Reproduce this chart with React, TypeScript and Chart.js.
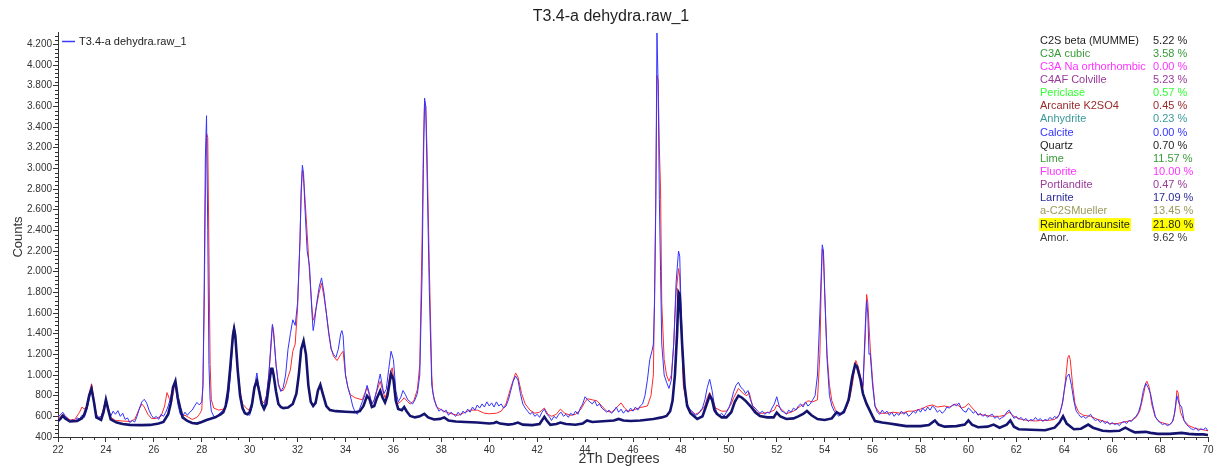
import React, { useEffect, useRef } from 'react';
import { Chart, registerables } from 'chart.js';

Chart.register(...registerables);

const chartTitle = 'T3.4-a dehydra.raw_1';
const legendLabel = 'T3.4-a dehydra.raw_1';
const xAxisTitle = '2Th Degrees';
const yAxisTitle = 'Counts';

const xTickValues = [22, 24, 26, 28, 30, 32, 34, 36, 38, 40, 42, 44, 46, 48, 50, 52, 54, 56, 58, 60, 62, 64, 66, 68, 70];
const yTickValues = [400, 600, 800, 1000, 1200, 1400, 1600, 1800, 2000, 2200, 2400, 2600, 2800, 3000, 3200, 3400, 3600, 3800, 4000, 4200];

// Observed pattern (blue), [2Theta, counts]
const observed: [number, number][] = [
  [22.0,600],[22.1,615],[22.2,640],[22.3,605],[22.4,580],[22.5,545],[22.6,570],[22.7,550],[22.8,585],[22.9,575],
  [23.0,610],[23.1,590],[23.2,660],[23.3,760],[23.4,885],[23.5,740],[23.6,610],[23.7,590],[23.8,600],[23.9,660],
  [24.0,765],[24.1,680],[24.2,600],[24.3,650],[24.4,620],[24.5,655],[24.6,600],[24.7,630],[24.8,570],[24.9,585],
  [25.0,540],[25.1,560],[25.2,545],[25.3,600],[25.4,680],[25.5,740],[25.6,765],[25.7,730],[25.8,660],[25.9,610],
  [26.0,580],[26.1,600],[26.2,570],[26.3,620],[26.4,600],[26.5,640],[26.6,700],[26.7,780],[26.8,880],[26.9,900],
  [27.0,720],[27.1,620],[27.2,600],[27.3,640],[27.4,610],[27.5,640],[27.6,660],[27.7,700],[27.8,735],[27.9,710],
  [28.0,740],[28.05,900],[28.1,1800],[28.15,3100],[28.2,3510],[28.25,2400],[28.3,1100],[28.35,760],[28.4,650],
  [28.5,600],[28.6,585],[28.7,620],[28.8,640],[28.9,660],[29.0,690],[29.1,760],[29.2,1000],[29.3,1350],[29.35,1480],
  [29.4,1400],[29.5,1050],[29.6,820],[29.7,700],[29.8,640],[29.9,620],[30.0,610],[30.1,690],[30.2,880],[30.3,1020],
  [30.4,860],[30.5,720],[30.6,700],[30.7,800],[30.8,1000],[30.9,1350],[30.95,1490],[31.0,1400],[31.1,1100],[31.2,900],
  [31.3,840],[31.4,880],[31.5,1000],[31.6,1250],[31.7,1400],[31.8,1535],[31.9,1480],[32.0,1700],[32.1,2300],[32.15,2800],
  [32.2,3030],[32.25,2950],[32.3,2650],[32.4,2200],[32.5,2050],[32.6,1600],[32.65,1430],[32.7,1500],[32.8,1700],[32.9,1850],
  [33.0,1940],[33.1,1800],[33.2,1600],[33.3,1400],[33.4,1250],[33.5,1200],[33.6,1170],[33.7,1250],[33.8,1400],[33.85,1430],
  [33.9,1380],[34.0,1000],[34.1,880],[34.2,800],[34.3,700],[34.4,640],[34.5,620],[34.6,680],[34.7,740],[34.8,800],
  [34.9,900],[35.0,820],[35.1,720],[35.2,760],[35.3,850],[35.4,960],[35.45,1010],[35.5,940],[35.6,820],[35.7,860],
  [35.8,1050],[35.9,1230],[36.0,1150],[36.1,850],[36.2,740],[36.3,780],[36.4,850],[36.5,810],[36.6,760],[36.7,740],
  [36.8,720],[36.9,760],[37.0,820],[37.1,1000],[37.2,2000],[37.25,3000],[37.3,3680],[37.35,3600],[37.4,3000],[37.5,1800],
  [37.6,900],[37.7,760],[37.8,700],[37.9,650],[38.0,670],[38.1,640],[38.2,660],[38.3,610],[38.4,640],[38.5,620],
  [38.6,600],[38.7,640],[38.8,610],[38.9,650],[39.0,630],[39.1,670],[39.2,640],[39.3,690],[39.4,660],[39.5,710],
  [39.6,680],[39.7,720],[39.8,690],[39.9,740],[40.0,700],[40.1,730],[40.2,690],[40.3,740],[40.4,700],[40.5,720],
  [40.6,680],[40.7,700],[40.8,760],[40.9,850],[41.0,940],[41.1,990],[41.2,950],[41.3,820],[41.4,720],[41.5,680],
  [41.6,650],[41.7,620],[41.8,640],[41.9,600],[42.0,620],[42.1,590],[42.2,640],[42.3,670],[42.4,620],[42.5,600],
  [42.6,560],[42.7,600],[42.8,580],[42.9,620],[43.0,640],[43.1,600],[43.2,620],[43.3,590],[43.4,630],[43.5,610],
  [43.6,650],[43.7,620],[43.8,680],[43.9,720],[44.0,790],[44.1,760],[44.2,740],[44.3,720],[44.4,750],[44.5,700],
  [44.6,720],[44.7,680],[44.8,660],[44.9,640],[45.0,660],[45.1,630],[45.2,650],[45.3,690],[45.4,640],[45.5,670],
  [45.6,630],[45.7,660],[45.8,640],[45.9,680],[46.0,650],[46.1,690],[46.2,660],[46.3,700],[46.4,720],[46.5,800],
  [46.6,950],[46.7,1150],[46.8,1240],[46.85,1300],[46.9,1700],[46.95,2600],[47.0,4310],[47.05,3800],[47.1,2700],[47.15,2000],
  [47.2,1300],[47.3,1000],[47.4,930],[47.5,870],[47.6,950],[47.7,1300],[47.8,1900],[47.9,2200],[47.95,2150],[48.0,1700],
  [48.1,1050],[48.2,780],[48.3,700],[48.4,660],[48.5,640],[48.6,610],[48.7,620],[48.8,650],[48.9,680],[49.0,760],
  [49.1,880],[49.2,960],[49.3,850],[49.4,700],[49.5,640],[49.6,610],[49.7,630],[49.8,600],[49.9,640],[50.0,680],
  [50.1,750],[50.2,840],[50.3,900],[50.4,930],[50.5,880],[50.6,860],[50.7,820],[50.8,850],[50.9,760],[51.0,700],
  [51.1,680],[51.2,650],[51.3,630],[51.4,650],[51.5,620],[51.6,640],[51.7,630],[51.8,680],[51.9,720],[52.0,790],
  [52.1,700],[52.2,650],[52.3,640],[52.4,620],[52.5,660],[52.6,640],[52.7,680],[52.8,660],[52.9,700],[53.0,720],
  [53.1,690],[53.2,740],[53.3,700],[53.4,720],[53.5,760],[53.6,800],[53.7,1000],[53.8,1600],[53.9,2260],[53.95,2200],
  [54.0,1800],[54.1,1150],[54.2,800],[54.3,700],[54.4,650],[54.5,620],[54.6,600],[54.7,640],[54.8,660],[54.9,700],
  [55.0,780],[55.1,900],[55.2,1050],[55.3,1100],[55.4,1050],[55.5,960],[55.6,900],[55.7,1500],[55.75,1720],[55.8,1600],
  [55.85,1200],[55.9,1210],[56.0,900],[56.1,700],[56.2,640],[56.3,620],[56.4,660],[56.5,630],[56.6,650],[56.7,610],
  [56.8,640],[56.9,600],[57.0,630],[57.1,610],[57.2,650],[57.3,620],[57.4,640],[57.5,600],[57.6,620],[57.7,650],
  [57.8,630],[57.9,670],[58.0,640],[58.1,680],[58.2,650],[58.3,690],[58.4,660],[58.5,700],[58.6,680],[58.7,640],
  [58.8,660],[58.9,630],[59.0,650],[59.1,690],[59.2,680],[59.3,700],[59.4,720],[59.5,700],[59.6,730],[59.7,680],
  [59.8,650],[59.9,640],[60.0,680],[60.1,660],[60.2,630],[60.3,650],[60.4,610],[60.5,630],[60.6,600],[60.7,620],
  [60.8,590],[60.9,610],[61.0,620],[61.1,580],[61.2,600],[61.3,570],[61.4,590],[61.5,600],[61.6,640],[61.7,660],
  [61.8,620],[61.9,580],[62.0,600],[62.1,570],[62.2,590],[62.3,560],[62.4,580],[62.5,550],[62.6,570],[62.7,560],
  [62.8,590],[62.9,560],[63.0,580],[63.1,550],[63.2,570],[63.3,560],[63.4,590],[63.5,570],[63.6,600],[63.7,580],
  [63.8,620],[63.9,700],[64.0,850],[64.1,980],[64.2,1010],[64.3,900],[64.4,750],[64.5,650],[64.6,620],[64.7,590],
  [64.8,600],[64.9,580],[65.0,600],[65.1,620],[65.2,580],[65.3,560],[65.4,570],[65.5,540],[65.6,560],[65.7,530],
  [65.8,550],[65.9,520],[66.0,540],[66.1,520],[66.2,530],[66.3,510],[66.4,540],[66.5,550],[66.6,530],[66.7,560],
  [66.8,550],[66.9,580],[67.0,600],[67.1,640],[67.2,720],[67.3,850],[67.4,920],[67.5,880],[67.6,820],[67.7,700],
  [67.8,600],[67.9,560],[68.0,540],[68.1,520],[68.2,530],[68.3,510],[68.4,520],[68.5,540],[68.6,620],[68.7,800],
  [68.8,720],[68.9,690],[69.0,560],[69.1,520],[69.2,500],[69.3,480],[69.4,470],[69.5,490],[69.6,460],[69.7,480],
  [69.8,470],[69.9,490],[70.0,460]
];

// Calculated pattern (red)
const calculated: [number, number][] = [
  [22.0,580],[22.1,600],[22.2,620],[22.3,600],[22.5,565],[22.7,570],[22.9,640],[23.0,690],[23.1,670],[23.2,700],
  [23.3,820],[23.4,915],[23.5,760],[23.6,620],[23.7,585],[23.8,600],[23.9,680],[24.0,770],[24.1,680],[24.2,590],
  [24.4,560],[24.7,555],[25.0,550],[25.2,570],[25.35,650],[25.5,720],[25.6,690],[25.75,620],[25.9,580],[26.1,580],
  [26.3,600],[26.45,700],[26.55,830],[26.65,770],[26.75,740],[26.85,880],[26.9,920],[27.0,760],[27.1,640],[27.2,600],
  [27.3,610],[27.45,590],[27.6,570],[27.8,590],[27.9,620],[28.0,660],[28.05,900],[28.1,1600],[28.15,2700],[28.2,3340],
  [28.25,3300],[28.3,2200],[28.35,1100],[28.4,760],[28.5,680],[28.7,660],[28.9,670],[29.0,690],[29.1,800],[29.2,1100],
  [29.3,1420],[29.35,1470],[29.4,1380],[29.5,1050],[29.6,850],[29.7,720],[29.9,670],[30.0,660],[30.1,720],[30.2,860],
  [30.3,950],[30.4,850],[30.5,750],[30.6,730],[30.7,800],[30.8,1000],[30.9,1300],[30.95,1480],[31.0,1420],[31.1,1100],
  [31.2,920],[31.3,850],[31.4,850],[31.5,900],[31.6,980],[31.7,1050],[31.8,1230],[31.9,1300],[32.0,1650],[32.1,2300],
  [32.15,2750],[32.2,2980],[32.25,2900],[32.3,2740],[32.4,2370],[32.5,1980],[32.6,1650],[32.65,1530],[32.7,1560],[32.8,1680],
  [32.9,1800],[33.0,1890],[33.1,1760],[33.2,1600],[33.3,1420],[33.4,1260],[33.5,1180],[33.65,1140],[33.8,1200],[33.9,1230],
  [34.0,1000],[34.1,880],[34.2,810],[34.4,780],[34.7,760],[34.8,820],[34.9,880],[35.0,800],[35.1,720],[35.2,760],
  [35.3,840],[35.45,940],[35.55,850],[35.65,780],[35.75,840],[35.85,1000],[35.95,1070],[36.05,900],[36.15,720],[36.3,740],
  [36.45,780],[36.6,740],[36.7,720],[36.85,750],[37.0,860],[37.1,1100],[37.2,2370],[37.25,3200],[37.3,3650],[37.35,3600],
  [37.4,3200],[37.5,2050],[37.6,1000],[37.65,820],[37.8,690],[37.95,670],[38.2,640],[38.5,620],[38.7,610],[39.0,640],
  [39.2,660],[39.5,660],[39.8,630],[40.0,625],[40.3,630],[40.5,650],[40.7,720],[40.9,880],[41.1,1020],[41.2,980],
  [41.35,820],[41.5,720],[41.7,660],[41.9,630],[42.1,640],[42.3,680],[42.45,620],[42.6,600],[42.8,620],[42.97,670],
  [43.15,630],[43.4,610],[43.6,620],[43.8,660],[44.0,740],[44.1,770],[44.3,760],[44.5,750],[44.7,700],[44.9,650],
  [45.1,640],[45.3,680],[45.5,730],[45.65,680],[45.8,650],[46.0,660],[46.3,685],[46.6,700],[46.75,800],[46.85,1000],
  [46.9,1800],[46.95,2700],[47.0,3900],[47.05,3850],[47.1,3200],[47.15,2800],[47.2,1700],[47.3,1150],[47.4,1000],[47.5,940],
  [47.6,1000],[47.7,1300],[47.8,1800],[47.9,2030],[47.95,1950],[48.0,1600],[48.1,900],[48.25,700],[48.4,660],[48.6,620],
  [48.8,640],[49.0,700],[49.1,780],[49.2,830],[49.3,780],[49.45,680],[49.7,650],[49.9,650],[50.1,720],[50.2,780],
  [50.4,870],[50.6,820],[50.75,800],[50.85,830],[51.0,690],[51.2,630],[51.4,630],[51.7,640],[51.9,660],[52.0,710],
  [52.15,680],[52.4,625],[52.7,650],[53.0,700],[53.15,720],[53.3,750],[53.5,740],[53.7,760],[53.8,1200],[53.85,1800],
  [53.9,2220],[53.95,2150],[54.05,1500],[54.1,1200],[54.2,900],[54.3,750],[54.45,660],[54.6,620],[54.75,640],[54.9,680],
  [55.05,780],[55.15,900],[55.3,1140],[55.4,1080],[55.5,980],[55.6,880],[55.7,1400],[55.75,1780],[55.8,1700],[55.9,1270],
  [56.0,950],[56.1,700],[56.3,630],[56.6,630],[56.85,640],[57.2,630],[57.5,650],[57.7,650],[58.0,670],[58.3,700],
  [58.5,710],[58.7,690],[59.0,700],[59.2,690],[59.5,720],[59.7,680],[59.85,690],[60.0,725],[60.2,670],[60.4,620],
  [60.7,610],[61.0,600],[61.3,600],[61.5,610],[61.7,640],[61.9,600],[62.2,570],[62.5,560],[62.8,555],[63.0,560],
  [63.3,560],[63.6,570],[63.8,620],[63.95,750],[64.05,950],[64.15,1170],[64.2,1190],[64.25,1150],[64.35,900],[64.45,720],
  [64.6,640],[64.8,610],[65.1,600],[65.4,570],[65.7,550],[65.9,530],[66.2,530],[66.5,545],[66.8,560],[67.0,590],
  [67.15,650],[67.3,800],[67.4,920],[67.45,940],[67.55,880],[67.65,720],[67.8,590],[68.0,545],[68.2,530],[68.4,520],
  [68.55,560],[68.65,700],[68.7,850],[68.75,830],[68.85,640],[69.0,560],[69.2,510],[69.5,480],[69.8,470],[70.0,460]
];

// Single-phase contribution (dark navy, thick)
const phaseContribution: [number, number][] = [
  [22.0,555],[22.1,575],[22.2,605],[22.3,580],[22.5,550],[22.8,555],[23.0,580],[23.1,620],[23.2,690],[23.3,800],
  [23.4,866],[23.5,740],[23.6,590],[23.8,565],[23.9,640],[24.0,760],[24.1,660],[24.2,570],[24.45,540],[24.7,525],
  [25.0,517],[25.5,515],[25.85,517],[26.2,530],[26.4,545],[26.6,620],[26.7,720],[26.8,880],[26.9,940],[27.0,780],
  [27.1,680],[27.2,590],[27.4,555],[27.6,535],[27.8,530],[28.0,545],[28.2,565],[28.4,580],[28.56,590],[28.8,620],
  [28.9,640],[29.0,700],[29.1,850],[29.2,1100],[29.3,1380],[29.35,1446],[29.4,1380],[29.5,1050],[29.6,800],[29.7,680],
  [29.8,630],[29.9,620],[30.0,640],[30.1,720],[30.2,880],[30.3,944],[30.4,840],[30.5,720],[30.6,672],[30.7,720],
  [30.8,900],[30.9,1060],[30.95,1060],[31.0,1000],[31.1,840],[31.2,720],[31.3,690],[31.4,680],[31.6,685],[31.8,720],
  [31.95,820],[32.05,1000],[32.15,1250],[32.25,1330],[32.35,1200],[32.45,900],[32.55,740],[32.65,700],[32.75,730],[32.85,850],
  [32.95,905],[33.05,820],[33.2,700],[33.35,660],[33.6,650],[34.0,645],[34.4,640],[34.6,650],[34.75,700],[34.9,798],
  [35.0,770],[35.1,690],[35.2,700],[35.3,770],[35.45,847],[35.55,780],[35.65,735],[35.75,800],[35.9,1010],[36.0,960],
  [36.1,750],[36.2,672],[36.35,660],[36.45,690],[36.55,650],[36.7,604],[36.9,590],[37.1,600],[37.29,625],[37.45,590],
  [37.7,570],[37.95,575],[38.12,590],[38.3,560],[38.6,550],[39.0,545],[39.5,540],[40.0,530],[40.2,535],[40.3,545],
  [40.45,530],[40.8,520],[41.0,525],[41.2,540],[41.4,520],[41.8,515],[42.1,525],[42.3,595],[42.4,560],[42.55,517],
  [42.8,525],[42.97,540],[43.2,525],[43.6,518],[43.9,530],[44.08,560],[44.3,545],[44.9,555],[45.2,560],[45.4,575],
  [45.6,560],[45.9,555],[46.3,560],[46.85,574],[47.2,590],[47.4,604],[47.55,650],[47.65,750],[47.75,1000],[47.84,1400],
  [47.9,1800],[47.95,1780],[48.05,1300],[48.15,900],[48.26,700],[48.4,630],[48.68,574],[48.9,600],[49.05,700],[49.2,800],
  [49.3,760],[49.4,660],[49.5,623],[49.7,590],[49.9,590],[50.1,640],[50.25,740],[50.4,800],[50.55,780],[50.7,750],
  [50.9,700],[51.1,640],[51.3,604],[51.6,590],[51.87,590],[52.0,636],[52.15,600],[52.4,574],[52.7,580],[52.9,600],
  [53.1,623],[53.26,652],[53.45,610],[53.7,574],[54.0,565],[54.3,580],[54.5,640],[54.65,620],[54.8,640],[55.0,760],
  [55.15,980],[55.27,1100],[55.35,1080],[55.5,950],[55.6,818],[55.75,720],[55.85,672],[56.0,600],[56.1,555],[56.4,540],
  [56.7,530],[57.0,520],[57.4,505],[58.0,505],[58.35,515],[58.6,560],[58.75,520],[59.0,500],[59.5,505],[59.85,520],
  [60.0,560],[60.15,520],[60.4,495],[60.8,500],[61.05,520],[61.3,490],[61.6,520],[61.75,560],[61.9,500],[62.1,475],
  [62.6,470],[63.2,465],[63.6,490],[63.8,540],[63.95,600],[64.1,530],[64.4,475],[64.7,480],[65.0,520],[65.2,490],
  [65.6,460],[65.9,455],[66.3,460],[66.55,490],[66.8,460],[66.95,445],[67.4,450],[67.6,440],[67.9,430],[68.4,430],
  [68.9,440],[69.2,430],[69.5,425],[69.8,425],[70.0,420]
];

const phaseNames = [
  'C2S beta (MUMME)', 'C3A cubic', 'C3A Na orthorhombic', 'C4AF Colville', 'Periclase', 'Arcanite K2SO4',
  'Anhydrite', 'Calcite', 'Quartz', 'Lime', 'Fluorite', 'Portlandite', 'Larnite', 'a-C2SMueller',
  'Reinhardbraunsite', 'Amor.'
];
const phasePercents = [
  '5.22 %', '3.58 %', '0.00 %', '5.23 %', '0.57 %', '0.45 %', '0.23 %', '0.00 %', '0.70 %', '11.57 %',
  '10.00 %', '0.47 %', '17.09 %', '13.45 %', '21.80 %', '9.62 %'
];
const phaseColors = [
  '#1e1e1e', '#3a9a3a', '#ff33ff', '#9a3a9a', '#33ff33', '#9a2a2a', '#3a9a9a', '#3333ff', '#1e1e1e', '#3a9a3a',
  '#ff33ff', '#9a3a9a', '#2a2a9a', '#9a9a5a', '#1e1e1e', '#3a3a3a'
];
const highlightedPhase = 'Reinhardbraunsite';

const FONT = '"Liberation Sans", Arial, sans-serif';

const overlayPlugin = {
  id: 'overlayPlugin',
  afterDraw(chart: any) {
    const ctx: CanvasRenderingContext2D = chart.ctx;
    const { left, bottom } = chart.chartArea;
    const xs = chart.scales.x;
    const ys = chart.scales.y;
    ctx.save();
    // minor ticks
    ctx.strokeStyle = '#333';
    ctx.lineWidth = 1;
    for (let v = 400; v <= 4300; v += 40) {
      if (v % 200 === 0) continue;
      const py = Math.round(ys.getPixelForValue(v)) + 0.5;
      ctx.beginPath();
      ctx.moveTo(left - 3, py);
      ctx.lineTo(left, py);
      ctx.stroke();
    }
    for (let v = 22; v <= 70; v += 0.5) {
      if (v % 2 === 0) continue;
      const px = Math.round(xs.getPixelForValue(v)) + 0.5;
      ctx.beginPath();
      ctx.moveTo(px, bottom);
      ctx.lineTo(px, bottom + 3);
      ctx.stroke();
    }
    // title
    ctx.fillStyle = '#1e1e1e';
    ctx.textBaseline = 'middle';
    ctx.textAlign = 'center';
    ctx.font = `16px ${FONT}`;
    ctx.fillText(chartTitle, 611, 17);
    // x axis title
    ctx.font = `14px ${FONT}`;
    ctx.fillStyle = '#333';
    ctx.fillText(xAxisTitle, 619, 459);
    // y axis title
    ctx.save();
    ctx.translate(18, 237);
    ctx.rotate(-Math.PI / 2);
    ctx.font = `13px ${FONT}`;
    ctx.fillText(yAxisTitle, 0, 0);
    ctx.restore();
    // legend
    ctx.strokeStyle = '#3a3aff';
    ctx.lineWidth = 1.5;
    ctx.beginPath();
    ctx.moveTo(62, 41.5);
    ctx.lineTo(75, 41.5);
    ctx.stroke();
    ctx.textAlign = 'left';
    ctx.font = `11px ${FONT}`;
    ctx.fillStyle = '#222';
    ctx.fillText(legendLabel, 79, 42);
    // phase table
    const nameX = 1040;
    const valX = 1153;
    const y0 = 40.5;
    const step = 13.15;
    ctx.font = `11px ${FONT}`;
    phaseNames.forEach((name, i) => {
      const y = y0 + i * step;
      if (name === highlightedPhase) {
        ctx.fillStyle = '#ffff00';
        const w1 = ctx.measureText(name).width;
        ctx.fillRect(nameX - 1, y - 6.5, w1 + 2, 13);
        const w2 = ctx.measureText(phasePercents[i]).width;
        ctx.fillRect(valX - 1, y - 6.5, w2 + 2, 13);
      }
      ctx.fillStyle = phaseColors[i];
      ctx.fillText(name, nameX, y);
      ctx.fillText(phasePercents[i], valX, y);
    });
    ctx.restore();
  }
};

function formatCount(v: number): string {
  const s = String(Math.round(v));
  if (s.length <= 3) return s;
  return s.slice(0, s.length - 3) + '.' + s.slice(s.length - 3);
}

export default function App() {
  const canvasRef = useRef<HTMLCanvasElement | null>(null);

  useEffect(() => {
    if (!canvasRef.current) return;
    const toPoints = (arr: [number, number][]) => arr.map(([x, y]) => ({ x, y }));
    const chart = new Chart(canvasRef.current, {
      type: 'line',
      data: {
        datasets: [
          {
            label: 'Reinhardbraunsite',
            data: toPoints(phaseContribution),
            borderColor: '#141470',
            borderWidth: 2.6,
            pointRadius: 0,
            tension: 0,
            fill: false,
          },
          {
            label: legendLabel,
            data: toPoints(observed),
            borderColor: '#3333ff',
            borderWidth: 1,
            pointRadius: 0,
            tension: 0,
            fill: false,
          },
          {
            label: 'Calculated',
            data: toPoints(calculated),
            borderColor: '#ff2a2a',
            borderWidth: 1,
            pointRadius: 0,
            tension: 0,
            fill: false,
          },
        ],
      },
      options: {
        animation: false,
        responsive: false,
        maintainAspectRatio: false,
        layout: { padding: { top: 32, right: 10, left: 0, bottom: 0 } },
        plugins: {
          legend: { display: false },
          title: { display: false },
          tooltip: { enabled: false },
        },
        scales: {
          x: {
            type: 'linear',
            min: 22,
            max: 70,
            afterFit: (s: any) => { s.height = 29; },
            afterBuildTicks: (s: any) => { s.ticks = xTickValues.map((v) => ({ value: v })); },
            grid: { display: true, drawOnChartArea: false, drawTicks: true, tickLength: 5, color: '#333' },
            border: { display: true, color: '#333', width: 1 },
            ticks: {
              padding: 2,
              autoSkip: false,
              maxRotation: 0,
              color: '#333',
              font: { family: FONT, size: 10 },
              callback: (v: any) => String(v),
            },
          },
          y: {
            type: 'linear',
            min: 400,
            max: 4320,
            afterFit: (s: any) => { s.width = 58; },
            afterBuildTicks: (s: any) => { s.ticks = yTickValues.map((v) => ({ value: v })); },
            grid: { display: true, drawOnChartArea: false, drawTicks: true, tickLength: 5, color: '#333' },
            border: { display: true, color: '#333', width: 1 },
            ticks: {
              padding: 1,
              autoSkip: false,
              color: '#333',
              font: { family: FONT, size: 10 },
              callback: (v: any) => formatCount(Number(v)),
            },
          },
        },
      },
      plugins: [overlayPlugin],
    });
    return () => chart.destroy();
  }, []);

  return (
    <div style={{ position: 'fixed', left: 0, top: 0, width: 1218, height: 466, background: '#fff' }}>
      <canvas ref={canvasRef} width={1218} height={466} style={{ display: 'block' }} />
    </div>
  );
}
